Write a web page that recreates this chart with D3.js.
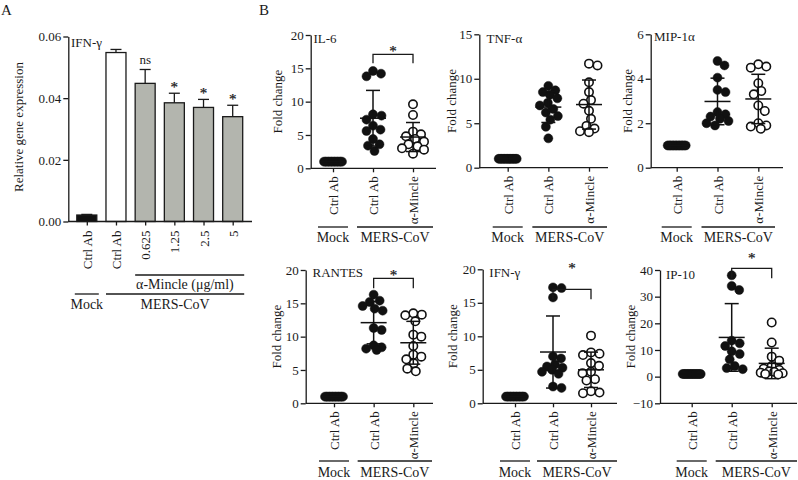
<!DOCTYPE html>
<html>
<head>
<meta charset="utf-8">
<script src="https://cdn.jsdelivr.net/npm/d3@7/dist/d3.min.js"></script>
<style>
  html, body { margin: 0; padding: 0; background: #fff; }
  svg { display: block; }
  text { font-family: "Liberation Serif", "Times New Roman", serif; fill: #1a1a1a; }
  text.star { opacity: 0.99; }
</style>
</head>
<body>
<svg id="chart" width="798" height="480"></svg>
<script>
// ---------------- DATA ----------------
// Panel A: IFN-γ relative gene expression
const panelACategories = ["Ctrl Ab", "Ctrl Ab", "0.625", "1.25", "2.5", "5"];
const panelAValues = [0.0021, 0.0548, 0.0448, 0.0385, 0.0370, 0.0340];
const panelAErrors = [0.0002, 0.0010, 0.0045, 0.0031, 0.0026, 0.0037];
const panelASignificance = ["", "", "ns", "*", "*", "*"];
const panelAYTicks = [0, 0.02, 0.04, 0.06];

// Panel B: fold change, groups = Mock Ctrl Ab, MERS-CoV Ctrl Ab, MERS-CoV α-Mincle
const scatterCategories = ["Ctrl Ab", "Ctrl Ab", "α-Mincle"];

const il6Mock   = [1, 1, 1, 1, 1, 1, 1, 1, 1, 1, 1, 1, 1];
const il6Ctrl   = [14.6, 14.2, 13.8, 8.1, 7.9, 7.3, 6.4, 5.8, 5.6, 4.4, 3.6, 3.4, 2.6];
const il6Mincle = [9.6, 8.0, 5.5, 5.1, 4.8, 4.4, 4.0, 3.6, 3.3, 3.0, 2.8, 2.2];
const il6Ticks  = [0, 5, 10, 15, 20];

const tnfMock   = [1, 1, 1, 1, 1, 1, 1, 1, 1, 1, 1, 1, 1];
const tnfCtrl   = [9.2, 8.7, 8.5, 8.2, 7.8, 7.3, 7.0, 6.6, 6.2, 5.8, 5.4, 4.6, 3.3];
const tnfMincle = [11.7, 11.5, 9.6, 8.5, 7.6, 7.2, 6.4, 5.5, 4.7, 4.4, 4.1, 4.0];
const tnfTicks  = [0, 5, 10, 15];

const mipMock   = [1, 1, 1, 1, 1, 1, 1, 1, 1, 1, 1, 1, 1];
const mipCtrl   = [4.8, 4.6, 4.05, 3.5, 3.4, 2.5, 2.4, 2.3, 2.2, 2.1, 2.0, 1.9];
const mipMincle = [4.65, 4.55, 4.5, 3.8, 3.45, 3.3, 2.8, 2.55, 2.0, 1.9, 1.85, 1.75];
const mipTicks  = [0, 2, 4, 6];

const rantesMock   = [1, 1, 1, 1, 1, 1, 1, 1, 1, 1, 1, 1, 1];
const rantesCtrl   = [16.3, 15.4, 15.2, 14.6, 14.2, 13.9, 11.3, 11.0, 8.7, 8.4, 8.2, 8.0];
const rantesMincle = [13.5, 13.3, 13.2, 12.3, 10.3, 10.0, 8.6, 7.3, 7.0, 6.6, 6.0, 5.2, 4.8];
const rantesTicks  = [0, 5, 10, 15, 20];

const ifnMock   = [1, 1, 1, 1, 1, 1, 1, 1, 1, 1, 1, 1, 1];
const ifnCtrl   = [17.3, 17.2, 15.8, 7.0, 6.7, 5.8, 5.5, 5.3, 5.0, 4.7, 4.4, 2.5, 2.3];
const ifnMincle = [10.1, 7.6, 7.4, 7.2, 6.0, 5.6, 4.7, 4.5, 3.6, 3.4, 1.8, 1.6, 1.5];
const ifnTicks  = [0, 5, 10, 15, 20];

const ip10Mock   = [1, 1, 1, 1, 1, 1, 1, 1, 1, 1, 1, 1, 1];
const ip10Ctrl   = [38, 34, 32.5, 13.5, 12.5, 11.5, 9.5, 8.5, 6.5, 4.0, 3.2, 2.8];
const ip10Mincle = [20.3, 12.8, 7.5, 6.0, 4.0, 3.0, 2.5, 2.0, 1.8, 1.5, 1.3, 1.0, 0.8];
const ip10Ticks  = [-10, 0, 10, 20, 30, 40];

// ---------------- DRAWING ----------------
const svg = d3.select("#chart");
const FS = 13;
const GFS = 14;
const LW = 1.3;

function styleAxis(g) {
  g.selectAll("path, line").attr("stroke", "#1a1a1a").attr("stroke-width", LW);
  g.selectAll("text").style("font-size", FS + "px").attr("fill", "#1a1a1a")
    .style("font-family", '"Liberation Serif", serif');
}

function star(g, x, yCenter) {
  g.append("text").attr("class", "star").attr("x", x).attr("y", yCenter + 6.5)
    .attr("text-anchor", "middle").style("font-size", "15px")
    .attr("stroke", "#1a1a1a").attr("stroke-width", 0.25).text("*");
}

// panel letters
svg.append("text").attr("x", 1).attr("y", 15).style("font-size", "15px").text("A");
svg.append("text").attr("x", 259).attr("y", 15).style("font-size", "15px").text("B");

// ---------- Panel A ----------
(function () {
  const axX = 68.3, axEnd = 252, y0 = 221.5, y1 = 36.5;
  const y = d3.scaleLinear().domain([0, 0.06]).range([y0, y1]);
  const x = d3.scalePoint().domain(d3.range(panelACategories.length)).range([86.8, 232.7]);
  const barW = 20;
  const fills = ["#111", "#fff", "#b3b5ae", "#b3b5ae", "#b3b5ae", "#b3b5ae"];
  const g = svg.append("g");

  g.selectAll("rect.bar").data(panelAValues).join("rect")
    .attr("x", (d, i) => x(i) - barW / 2).attr("width", barW)
    .attr("y", d => y(d)).attr("height", d => y(0) - y(d))
    .attr("fill", (d, i) => fills[i]).attr("stroke", "#1a1a1a").attr("stroke-width", LW);

  panelAValues.forEach((v, i) => {
    const top = y(v + panelAErrors[i]);
    g.append("line").attr("x1", x(i)).attr("x2", x(i)).attr("y1", y(v)).attr("y2", top)
      .attr("stroke", "#1a1a1a").attr("stroke-width", LW);
    g.append("line").attr("x1", x(i) - 5.5).attr("x2", x(i) + 5.5).attr("y1", top).attr("y2", top)
      .attr("stroke", "#1a1a1a").attr("stroke-width", LW);
    const s = panelASignificance[i];
    if (s === "*") star(g, x(i), top - 8);
    else if (s) {
      g.append("text").attr("x", x(i)).attr("y", top - 5)
        .attr("text-anchor", "middle").style("font-size", FS + "px").text(s);
    }
  });

  const ya = g.append("g").attr("transform", `translate(${axX},0)`)
    .call(d3.axisLeft(y).tickValues(panelAYTicks).tickSize(5).tickSizeOuter(0).tickPadding(2).tickFormat(d3.format(".2f")));
  styleAxis(ya);

  const xa = g.append("g").attr("transform", `translate(0,${y0})`)
    .call(d3.axisBottom(x).tickSize(4).tickSizeOuter(0).tickFormat(i => panelACategories[i]));
  xa.select(".domain").remove();
  styleAxis(xa);
  xa.selectAll("text").attr("transform", "rotate(-90)").attr("text-anchor", "end")
    .attr("x", -9).attr("y", 0).attr("dy", "0.35em");
  g.append("line").attr("x1", axX).attr("x2", axEnd).attr("y1", y0).attr("y2", y0)
    .attr("stroke", "#1a1a1a").attr("stroke-width", LW);

  g.append("text").attr("x", 71).attr("y", 46.5).style("font-size", FS + "px").text("IFN-γ");

  g.append("text").attr("transform", `translate(23,127) rotate(-90)`).attr("text-anchor", "middle")
    .style("font-size", FS + "px").text("Relative gene expression");

  const ln = (xa1, xa2, yy) => g.append("line").attr("x1", xa1).attr("x2", xa2).attr("y1", yy).attr("y2", yy)
    .attr("stroke", "#1a1a1a").attr("stroke-width", LW);
  ln(x(2) - 10, x(5) + 11.5, 275);
  g.append("text").attr("x", (x(2) + x(5)) / 2 - 4).attr("y", 289).attr("text-anchor", "middle")
    .style("font-size", GFS + "px").text("α-Mincle (μg/ml)");
  ln(x(0) - 12, x(0) + 12, 294);
  ln(x(1) - 10, x(5) + 11.5, 294);
  g.append("text").attr("x", x(0)).attr("y", 309).attr("text-anchor", "middle")
    .style("font-size", GFS + "px").text("Mock");
  g.append("text").attr("x", (x(1) - 10 + x(5) + 11.5) / 2).attr("y", 309).attr("text-anchor", "middle")
    .style("font-size", GFS + "px").text("MERS-CoV");
})();

// ---------- Panel B ----------
// deterministic swarm layout: nearest free horizontal slot within maxSpread,
// otherwise the slot with the least overlap
function swarm(values, yScale, minDist, step, maxSpread) {
  const pts = values.map(v => ({ v, y: yScale(v), dx: 0 }))
    .sort((a, b) => b.v - a.v);
  const placed = [];
  pts.forEach(p => {
    let best = 0, bestScore = -Infinity;
    const nSteps = Math.floor(maxSpread / step) * 2;
    for (let k = 0; k <= nSteps; k++) {
      const off = k === 0 ? 0 : (k % 2 ? 1 : -1) * Math.ceil(k / 2) * step;
      const dmin = placed.length ? d3.min(placed, q => Math.hypot(q.dx - off, q.y - p.y)) : Infinity;
      if (dmin >= minDist - 1e-6) { best = off; break; }
      if (dmin > bestScore + 0.01) { bestScore = dmin; best = off; }
    }
    p.dx = best;
    placed.push(p);
  });
  return pts;
}

const scatterPanels = [
  { title: "IL-6", groups: [il6Mock, il6Ctrl, il6Mincle], ticks: il6Ticks, domain: [0, 20],
    ax: 310.7, c0: 333, c2: 413, axEnd: 436, mersEnd: 433, y0: 168.3, y1: 35,
    titleX: 313.5, titleY: 42.5, labelX: 282, groupLineY: 227, groupTextY: 242,
    bracket: { y: 54.3, drop: 9, starY: 49.5 } },
  { title: "TNF-α", groups: [tnfMock, tnfCtrl, tnfMincle], ticks: tnfTicks, domain: [0, 15],
    ax: 479.3, c0: 507.7, c2: 589, axEnd: 608, mersEnd: 607, y0: 167.7, y1: 34.3,
    titleX: 486.5, titleY: 42.5, labelX: 456, groupLineY: 227, groupTextY: 242, bracket: null },
  { title: "MIP-1α", groups: [mipMock, mipCtrl, mipMincle], ticks: mipTicks, domain: [0, 6],
    ax: 650.7, c0: 676.7, c2: 758.3, axEnd: 783, mersEnd: 775, y0: 167.7, y1: 34.3,
    titleX: 654, titleY: 41, labelX: 632, groupLineY: 227, groupTextY: 242, bracket: null },
  { title: "RANTES", groups: [rantesMock, rantesCtrl, rantesMincle], ticks: rantesTicks, domain: [0, 20],
    ax: 305.7, c0: 334, c2: 413.3, axEnd: 433, mersEnd: 432, y0: 403.3, y1: 270,
    titleX: 312.5, titleY: 277.3, labelX: 281, groupLineY: 461, groupTextY: 477,
    bracket: { y: 278.3, drop: 10, starY: 273.3 } },
  { title: "IFN-γ", groups: [ifnMock, ifnCtrl, ifnMincle], ticks: ifnTicks, domain: [0, 20],
    ax: 482.7, c0: 515, c2: 591, axEnd: 617, mersEnd: 617, y0: 403.3, y1: 269.3,
    titleX: 489.3, titleY: 277, labelX: 457, groupLineY: 461, groupTextY: 477,
    bracket: { y: 289.3, drop: 10, starY: 266.5 } },
  { title: "IP-10", groups: [ip10Mock, ip10Ctrl, ip10Mincle], ticks: ip10Ticks, domain: [-10, 40],
    ax: 660, c0: 691.7, c2: 771.7, axEnd: 797, mersEnd: 797, y0: 403.3, y1: 270,
    titleX: 666, titleY: 279, labelX: 634.5, groupLineY: 461, groupTextY: 477,
    bracket: { y: 268.3, drop: 10, starY: 256 } }
];

scatterPanels.forEach(cfg => {
  const g = svg.append("g");
  const y = d3.scaleLinear().domain(cfg.domain).range([cfg.y0, cfg.y1]);
  const x = d3.scalePoint().domain([0, 1, 2]).range([cfg.c0, cfg.c2]);

  const ya = g.append("g").attr("transform", `translate(${cfg.ax},0)`)
    .call(d3.axisLeft(y).tickValues(cfg.ticks).tickSize(5).tickSizeOuter(0).tickPadding(2)
      .tickFormat(d => d < 0 ? "\u2212" + Math.abs(d) : d));
  styleAxis(ya);

  const xa = g.append("g").attr("transform", `translate(0,${cfg.y0})`)
    .call(d3.axisBottom(x).tickSize(4).tickSizeOuter(0).tickFormat(i => scatterCategories[i]));
  xa.select(".domain").remove();
  styleAxis(xa);
  xa.selectAll("text").attr("transform", "rotate(-90)").attr("text-anchor", "end")
    .attr("x", -8).attr("y", 0).attr("dy", "0.35em");
  g.append("line").attr("x1", cfg.ax).attr("x2", cfg.axEnd).attr("y1", cfg.y0).attr("y2", cfg.y0)
    .attr("stroke", "#1a1a1a").attr("stroke-width", LW);

  cfg.groups.forEach((vals, gi) => {
    const isMock = gi === 0;
    const pts = isMock ? swarm(vals, y, 1.5, 1.5, 10) : swarm(vals, y, 8.2, 0.5, 11);
    const open = gi === 2;
    g.selectAll(null).data(pts).join("circle")
      .attr("cx", d => x(gi) + d.dx).attr("cy", d => d.y)
      .attr("r", open ? 4.2 : 4.5)
      .attr("fill", open ? "#fff" : "#111")
      .attr("stroke", "#111").attr("stroke-width", open ? 1.6 : 0.5);
    const m = d3.mean(vals), sd = d3.deviation(vals) || 0;
    const cx = x(gi);
    const L = (x1, x2, y1, y2) => g.append("line").attr("x1", x1).attr("x2", x2).attr("y1", y1).attr("y2", y2)
      .attr("stroke", "#111").attr("stroke-width", 1.5);
    L(cx - 13, cx + 13, y(m), y(m));
    if (sd > 0) {
      L(cx, cx, y(m - sd), y(m + sd));
      L(cx - 7, cx + 7, y(m + sd), y(m + sd));
      L(cx - 7, cx + 7, y(m - sd), y(m - sd));
    }
  });

  g.append("text").attr("x", cfg.titleX).attr("y", cfg.titleY).style("font-size", FS + "px").text(cfg.title);

  g.append("text").attr("transform", `translate(${cfg.labelX},${(cfg.y0 + cfg.y1) / 2}) rotate(-90)`)
    .attr("text-anchor", "middle").style("font-size", FS + "px").text("Fold change");

  if (cfg.bracket) {
    const b = cfg.bracket;
    g.append("path")
      .attr("d", `M${x(1)},${b.y + b.drop}V${b.y}H${x(2)}V${b.y + b.drop}`)
      .attr("fill", "none").attr("stroke", "#1a1a1a").attr("stroke-width", LW);
    star(g, (x(1) + x(2)) / 2, b.starY);
  }

  const ln = (a, b2, yy) => g.append("line").attr("x1", a).attr("x2", b2).attr("y1", yy).attr("y2", yy)
    .attr("stroke", "#1a1a1a").attr("stroke-width", LW);
  ln(x(0) - 15, x(0) + 15, cfg.groupLineY);
  ln(x(1) - 16, cfg.mersEnd, cfg.groupLineY);
  g.append("text").attr("x", x(0)).attr("y", cfg.groupTextY).attr("text-anchor", "middle")
    .style("font-size", GFS + "px").text("Mock");
  g.append("text").attr("x", (x(1) - 16 + cfg.mersEnd) / 2).attr("y", cfg.groupTextY).attr("text-anchor", "middle")
    .style("font-size", GFS + "px").text("MERS-CoV");
});
</script>
</body>
</html>
